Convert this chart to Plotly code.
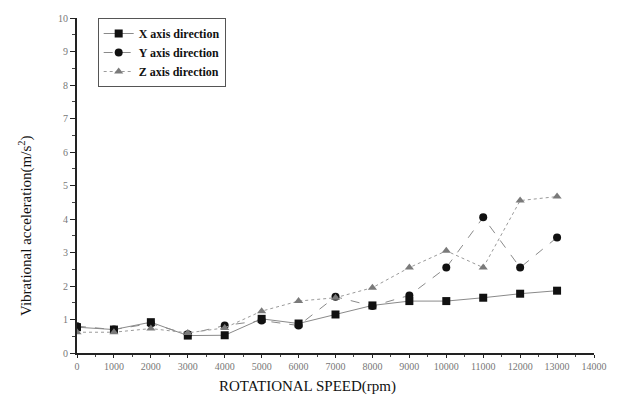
import plotly.graph_objects as go

# Rotational speed (rpm)
speed = [0, 1000, 2000, 3000, 4000, 5000, 6000, 7000, 8000, 9000, 10000, 11000, 12000, 13000]

# Vibrational acceleration (m/s^2) per direction
x_dir = [0.77, 0.70, 0.92, 0.52, 0.53, 1.02, 0.88, 1.15, 1.42, 1.55, 1.55, 1.65, 1.77, 1.86]
y_dir = [0.80, 0.70, 0.88, 0.56, 0.82, 0.97, 0.82, 1.68, 1.40, 1.72, 2.55, 4.05, 2.55, 3.45]
z_dir = [0.62, 0.62, 0.73, 0.60, 0.75, 1.25, 1.55, 1.65, 1.95, 2.55, 3.05, 2.55, 4.55, 4.67]

x_ticks = list(range(0, 14001, 1000))
y_ticks = list(range(0, 11))

FONT = "Times New Roman, Liberation Serif, serif"

fig = go.Figure()
fig.add_trace(go.Scatter(
    x=speed, y=x_dir, name="<b>X axis direction</b>", mode="lines+markers",
    line=dict(color="#8a8a8a", width=1, dash="solid"),
    marker=dict(symbol="square", size=8, color="#111111"),
))
fig.add_trace(go.Scatter(
    x=speed, y=y_dir, name="<b>Y axis direction</b>", mode="lines+markers",
    line=dict(color="#8a8a8a", width=1, dash="dash"),
    marker=dict(symbol="circle", size=8, color="#111111"),
))
fig.add_trace(go.Scatter(
    x=speed, y=z_dir, name="<b>Z axis direction</b>", mode="lines+markers",
    line=dict(color="#9a9a9a", width=1, dash="dot"),
    marker=dict(symbol="triangle-up", size=8, color="#7a7a7a"),
))

fig.update_layout(
    width=622, height=403,
    margin=dict(l=77, r=28, t=14, b=50),
    paper_bgcolor="white", plot_bgcolor="white",
    font=dict(family=FONT, color="#222222"),
    showlegend=True,
    legend=dict(
        x=0.04, y=1.0, xanchor="left", yanchor="top",
        bgcolor="white", bordercolor="#555555", borderwidth=1,
        font=dict(family=FONT, size=12, color="#111111"),
        tracegroupgap=0, itemwidth=30,
    ),
    xaxis=dict(
        range=[0, 14000], tickvals=x_ticks, ticktext=[str(v) for v in x_ticks],
        showgrid=False, zeroline=False, showline=True, linecolor="#222222", linewidth=2,
        ticks="outside", ticklen=3, tickcolor="#222222",
        tickfont=dict(family=FONT, size=10, color="#777777"),
        minor=dict(ticks="outside", ticklen=2, dtick=500, tickcolor="#444444"),
    ),
    yaxis=dict(
        range=[0, 10], tickvals=y_ticks,
        showgrid=False, zeroline=False, showline=True, linecolor="#222222", linewidth=2,
        ticks="outside", ticklen=5, tickcolor="#222222",
        tickfont=dict(family=FONT, size=10, color="#777777"),
        minor=dict(ticks="outside", ticklen=3, dtick=0.5, tickcolor="#444444"),
    ),
    annotations=[
        dict(text="ROTATIONAL SPEED(rpm)", xref="paper", yref="paper",
             x=0.445, y=-0.10, xanchor="center", yanchor="middle", showarrow=False,
             font=dict(family=FONT, size=15, color="#111111")),
        dict(text="Vibrational acceleration(m/s<sup>2</sup>)", xref="paper", yref="paper",
             x=-0.10, y=0.38, xanchor="center", yanchor="middle", showarrow=False,
             textangle=-90, font=dict(family=FONT, size=15, color="#111111")),
    ],
)

fig.write_html("out.html")
